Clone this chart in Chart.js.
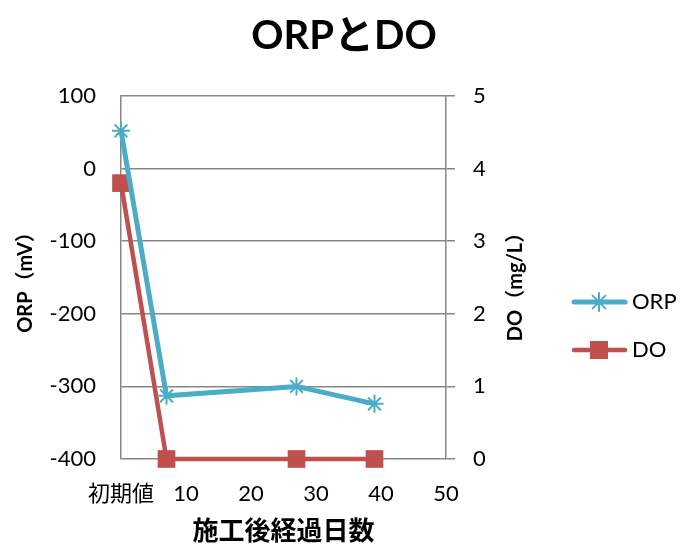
<!DOCTYPE html>
<html>
<head>
<meta charset="utf-8">
<script src="https://cdn.jsdelivr.net/npm/chart.js@4"></script>
<style>
  body { margin: 0; background: #fff; }
  #wrap { width: 688px; height: 547px; }
</style>
</head>
<body>
<div id="wrap"><canvas id="myChart"></canvas></div>
<script>
// days after construction (0 = initial value)
const days = [0, 7, 27, 39];
const orpValues = [52, -313, -300, -324];
const doValues = [3.8, 0, 0, 0];
const xTickLabels = { 0: "初期値" };
const seriesNames = ["ORP", "DO"];

const FONT = "Lato, 'Noto Sans CJK JP', sans-serif";
const GRID = "#868686";
const BLUE = "#4BACC6";
const RED = "#C0504D";

const toPoints = (xs, ys) => xs.map((x, i) => ({ x: x, y: ys[i] }));

// legend + right axis title drawn by hand (Chart.js rotates right titles the other way)
const extras = {
  id: "extras",
  afterDraw(chart) {
    const c = chart.ctx;
    c.save();
    c.font = "bold 20px " + FONT;
    c.fillStyle = "#000";
    c.textAlign = "center";
    c.textBaseline = "middle";
    c.translate(516, 282);
    c.rotate(-Math.PI / 2);
    c.fillText("DO（mg/L）", 0, 0);
    c.restore();

    const rows = [302, 350];
    chart.data.datasets.forEach((ds, i) => {
      const y = rows[i];
      c.save();
      c.strokeStyle = ds.borderColor;
      c.lineWidth = ds.borderWidth;
      c.lineCap = "round";
      c.beginPath();
      c.moveTo(574, y);
      c.lineTo(625, y);
      c.stroke();
      const cx = 599;
      if (ds.pointStyle === "rect") {
        c.fillStyle = ds.pointBackgroundColor;
        c.fillRect(cx - 9, y - 9, 18, 18);
      } else {
        c.lineWidth = 2;
        const r = 9, d = r * Math.SQRT1_2;
        c.beginPath();
        c.moveTo(cx, y - r); c.lineTo(cx, y + r);
        c.moveTo(cx - r, y); c.lineTo(cx + r, y);
        c.moveTo(cx - d, y - d); c.lineTo(cx + d, y + d);
        c.moveTo(cx - d, y + d); c.lineTo(cx + d, y - d);
        c.stroke();
      }
      c.fillStyle = "#000";
      c.font = "22px " + FONT;
      c.textAlign = "left";
      c.textBaseline = "middle";
      c.fillText(ds.label, 632, y);
      c.restore();
    });
  }
};

new Chart(document.getElementById("myChart"), {
  type: "scatter",
  data: {
    datasets: [
      {
        label: seriesNames[0],
        data: toPoints(days, orpValues),
        yAxisID: "y",
        showLine: true,
        borderColor: BLUE,
        backgroundColor: BLUE,
        borderWidth: 5,
        pointStyle: "star",
        pointRadius: 9,
        pointBorderWidth: 2,
        pointBorderColor: BLUE,
        pointBackgroundColor: BLUE,
        clip: false
      },
      {
        label: seriesNames[1],
        data: toPoints(days, doValues),
        yAxisID: "y1",
        showLine: true,
        borderColor: RED,
        backgroundColor: RED,
        borderWidth: 4.5,
        pointStyle: "rect",
        pointRadius: 12.5,
        pointBorderWidth: 0,
        pointBorderColor: RED,
        pointBackgroundColor: RED,
        clip: false
      }
    ]
  },
  options: {
    responsive: true,
    maintainAspectRatio: false,
    animation: false,
    layout: { padding: 0 },
    plugins: {
      legend: { display: false },
      tooltip: { enabled: false },
      title: {
        display: true,
        text: "ORPとDO",
        color: "#000",
        font: { family: FONT, size: 40, weight: "bold" },
        padding: { top: 12, bottom: 36 }
      }
    },
    scales: {
      x: {
        type: "linear",
        min: 0,
        max: 50,
        grid: { display: false, drawTicks: false },
        border: { display: false },
        ticks: {
          stepSize: 10,
          padding: 22,
          maxRotation: 0,
          minRotation: 0,
          autoSkip: false,
          color: "#000",
          font: { family: FONT, size: 22 },
          callback: v => xTickLabels[v] !== undefined ? xTickLabels[v] : v
        },
        title: {
          display: true,
          text: "施工後経過日数",
          color: "#000",
          font: { family: FONT, size: 26, weight: "bold" },
          padding: { top: 0, bottom: 0 }
        },
        afterFit: s => { s.height = 88; }
      },
      y: {
        position: "left",
        min: -400,
        max: 100,
        grid: { color: GRID, lineWidth: 1.5, drawTicks: false },
        border: { color: GRID, width: 1.5 },
        ticks: {
          stepSize: 100,
          padding: 25,
          color: "#000",
          font: { family: FONT, size: 22 }
        },
        title: {
          display: true,
          text: "ORP（mV）",
          color: "#000",
          font: { family: FONT, size: 20, weight: "bold" },
          padding: { top: 14, bottom: 0 }
        },
        afterFit: s => { s.width = 121; }
      },
      y1: {
        position: "right",
        min: 0,
        max: 5,
        grid: { drawOnChartArea: false, color: GRID, lineWidth: 1.5, tickLength: 9 },
        border: { color: GRID, width: 1.5 },
        ticks: {
          stepSize: 1,
          padding: 18,
          color: "#000",
          font: { family: FONT, size: 22 }
        },
        afterFit: s => { s.width = 242; }
      }
    }
  },
  plugins: [extras]
});
</script>
</body>
</html>
